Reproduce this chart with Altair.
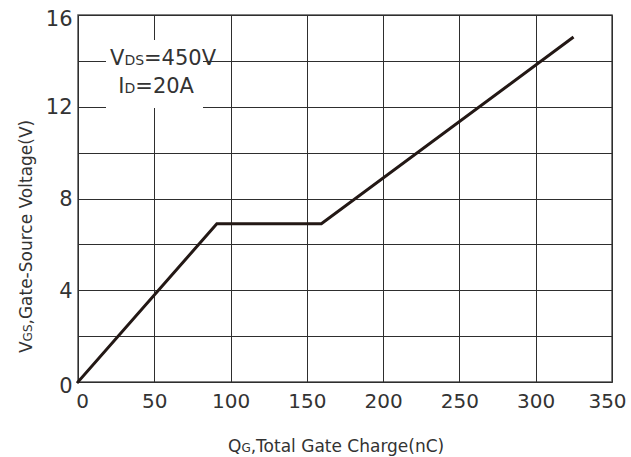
import altair as alt
import pandas as pd

# ---- data ----
qg_nc = [0, 91, 159.5, 324]          # total gate charge (nC)
vgs_v = [0, 6.9, 6.9, 15.0]          # gate-source voltage (V)

x_ticks = [0, 50, 100, 150, 200, 250, 300, 350]
y_grid = [0, 2, 4, 6, 8, 10, 12, 14, 16]
y_label_step = 4

# text pieces (main, subscript, rest)
note1 = ["V", "DS", "=450V"]
note2 = ["I", "D", "=20A"]
x_title = ["Q", "G", ",Total Gate Charge(nC)"]
y_title = ["V", "GS", ",Gate-Source Voltage(V)"]

FONT = "DejaVu Sans"
TXT = "#333333"
W, H = 534, 367

df = pd.DataFrame({"qg": qg_nc, "vgs": vgs_v})
one = pd.DataFrame({"k": [0]})

x_enc = alt.X(
    "qg:Q",
    scale=alt.Scale(domain=[0, 350], nice=False, zero=False),
    axis=alt.Axis(values=x_ticks, title="", grid=True, ticks=False, domain=False,
                  labelFont=FONT, labelFontSize=20, labelColor=TXT, labelPadding=9,
                  labelFlush=False,
                  labelOffset={"condition": [
                      {"test": "datum.value == 0", "value": 4},
                      {"test": "datum.value == 350", "value": -5}],
                      "value": 0},
                  gridColor="#2e2e2e", gridWidth=1, gridOpacity=1),
)
y_enc = alt.Y(
    "vgs:Q",
    scale=alt.Scale(domain=[0, 16], nice=False, zero=False),
    axis=alt.Axis(values=y_grid, title="", grid=True, ticks=False, domain=False,
                  labelExpr=f"datum.value % {y_label_step} == 0 ? datum.label : ''",
                  labelFont=FONT, labelFontSize=21, labelColor=TXT, labelPadding=6,
                  labelFlush=False,
                  labelOffset={"condition": [
                      {"test": "datum.value == 0", "value": 4},
                      {"test": "datum.value == 16", "value": 4}],
                      "value": 1},
                  gridColor="#2e2e2e", gridWidth=1, gridOpacity=1),
)

line = alt.Chart(df).mark_line(color="#231815", strokeWidth=3, strokeCap="square").encode(
    x=x_enc, y=y_enc
)

box = alt.Chart(one).mark_rect(color="white").encode(
    x=alt.value(28), x2=alt.value(125), y=alt.value(25), y2=alt.value(93)
)


def piece(text, x, y, size, align, angle=0):
    kw = dict(align=align, baseline="alphabetic", font=FONT, fontSize=size, color=TXT)
    if angle:
        kw["angle"] = angle
    return alt.Chart(one).mark_text(**kw).encode(
        x=alt.value(x), y=alt.value(y), text=alt.value(text)
    )


layers = [
    line, box,
    # annotation
    piece(note1[0], 46.4, 50, 21, "right"),
    piece(note1[1], 46.4, 50, 14, "left"),
    piece(note1[2], 66, 50, 21, "left"),
    piece(note2[0], 46.5, 78, 21, "right"),
    piece(note2[1], 46.5, 78, 14, "left"),
    piece(note2[2], 57.3, 78, 21, "left"),
    # x title
    piece(x_title[0], 163.4, 437, 17, "right"),
    piece(x_title[1], 163.4, 437, 12, "left"),
    piece(x_title[2], 172.7, 437, 17, "left"),
    # y title (rotated)
    piece(y_title[0], -46, 326.4, 17, "right", 270),
    piece(y_title[1], -46, 326.4, 12, "left", 270),
    piece(y_title[2], -46, 309.5, 17, "left", 270),
]

chart = alt.layer(*layers).properties(
    width=W, height=H,
    autosize=alt.AutoSizeParams(type="none"),
    padding={"left": 78, "top": 15, "right": 19, "bottom": 75},
    background="white",
).configure_view(stroke="#555555", strokeWidth=1.5)

chart.save("out.html", embed_options={"renderer": "svg", "actions": False})
